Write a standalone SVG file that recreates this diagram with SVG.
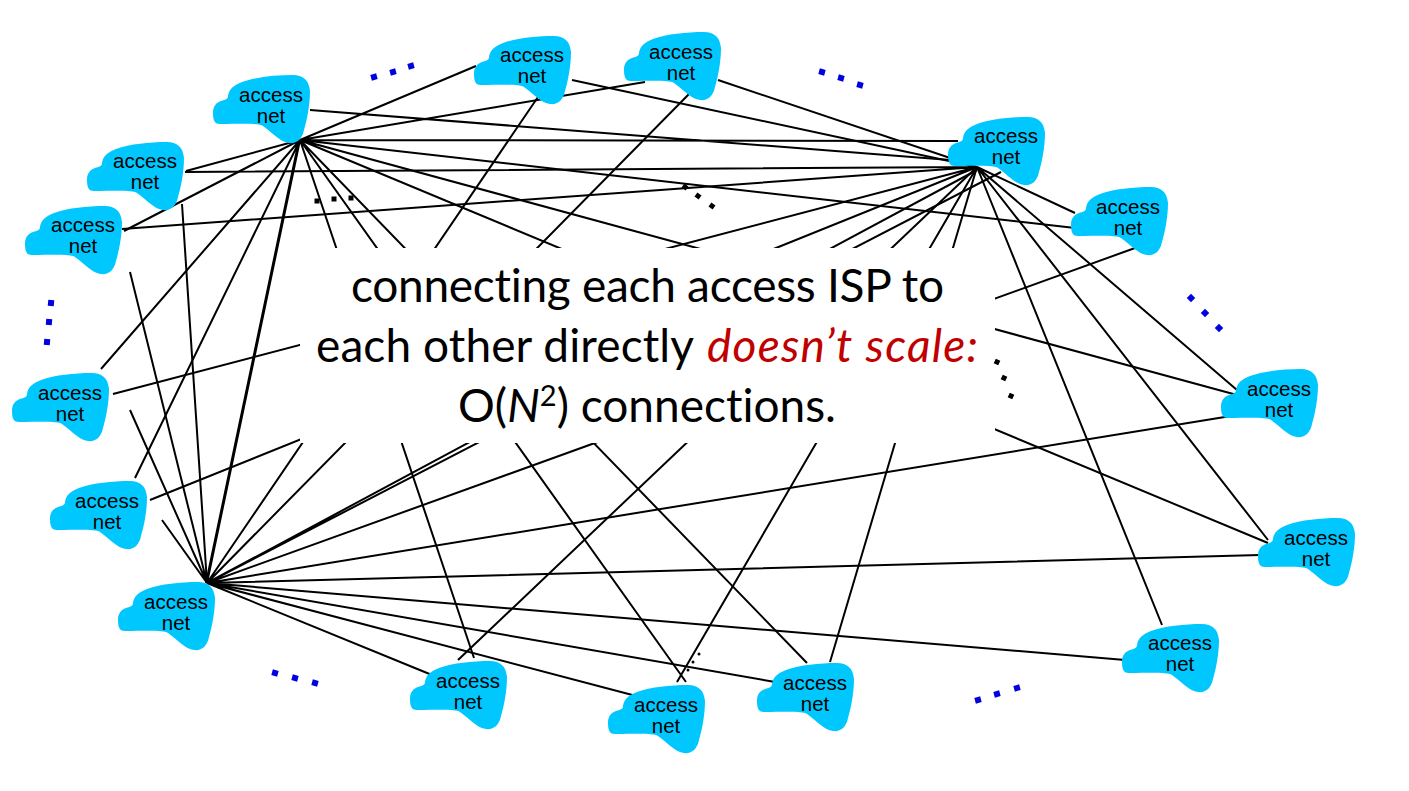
<svg xmlns="http://www.w3.org/2000/svg" width="1409" height="791" viewBox="0 0 1409 791">
<style>
.c{stroke:#000;stroke-width:2;fill:none}
.n text{font-family:"Liberation Sans",Arial,sans-serif;font-size:20.5px;fill:#000;text-anchor:middle}
.b{fill:#0000e0}
.k{fill:#000}
.big{font-family:Lato,"Open Sans",sans-serif;font-size:46px;fill:#000;font-variant-ligatures:none}
.mid{text-anchor:middle}
.red{fill:#c00000;font-style:italic}
</style>
<defs>
<path id="cloud" fill="#00c8ff" d="M0,38C0,31 3,28 8,26C12,25 15,24 15,21C16,14 21,10 29,7C43,2 62,0 80,0C90,0 96,5 97,16C97,30 94,45 91,55C89,65 83,69 76,68C67,67 60,58 50,51C45,48 30,49 7,49C2,49 0,46 0,38Z"/>
<rect id="bd" x="-3" y="-3" width="6" height="6" class="b"/>
<rect id="kd" x="-2.5" y="-2.5" width="5" height="5" class="k"/>
</defs>
<g id="connectors" class="c">
<path d="M300,140L476,66M300,140L645,82M300,140L958,141M310,110L950,160M300,140L1075,228M300,140L186,171M300,140L124,231M300,140L101,369M300,140L135,478M300,140L207,583M299,140L206,583M300,140L1237,395M300,140L1268,543M300,140L807,663M300,140L686,682M300,140L474,658"/>
<path d="M207,583L162,520M207,583L130,410M207,583L130,272M207,583L182,204M207,583L538,97M207,583L690,93M207,583L977,170M207,583L1001,172M207,583L1135,248M207,583L1237,415M207,583L1260,555M207,583L1125,660M207,583L775,682M207,583L640,697M207,583L432,675"/>
<path d="M977,167L150,500M977,167L113,394M977,167L122,229M977,167L185,172M977,167L572,80M977,167L718,80M977,167L1075,213M977,167L1237,390M977,167L1268,540M977,167L1162,625M977,167L830,662M977,167L677,682M977,167L458,660"/>
</g>
<rect id="panel" x="300" y="248" width="695" height="195" fill="#fff"/>
<g id="dots">
<use href="#bd" transform="translate(374,77) rotate(-15)"/><use href="#bd" transform="translate(393,72) rotate(-15)"/><use href="#bd" transform="translate(411,66) rotate(-15)"/>
<use href="#bd" transform="translate(822,72) rotate(15)"/><use href="#bd" transform="translate(841,78) rotate(15)"/><use href="#bd" transform="translate(860,85) rotate(15)"/>
<use href="#bd" transform="translate(1191,298) rotate(45)"/><use href="#bd" transform="translate(1205,313) rotate(45)"/><use href="#bd" transform="translate(1219,328) rotate(45)"/>
<use href="#bd" transform="translate(51,303) rotate(5)"/><use href="#bd" transform="translate(49,322) rotate(5)"/><use href="#bd" transform="translate(47,342) rotate(5)"/>
<use href="#bd" transform="translate(275,673) rotate(15)"/><use href="#bd" transform="translate(295,678) rotate(15)"/><use href="#bd" transform="translate(315,683) rotate(15)"/>
<use href="#bd" transform="translate(978,700) rotate(-15)"/><use href="#bd" transform="translate(997,694) rotate(-15)"/><use href="#bd" transform="translate(1017,688) rotate(-15)"/>
<use href="#kd" transform="translate(317,201)"/><use href="#kd" transform="translate(334,199)"/><use href="#kd" transform="translate(351,198)"/>
<use href="#kd" transform="translate(685,187) rotate(35)"/><use href="#kd" transform="translate(698,196) rotate(35)"/><use href="#kd" transform="translate(712,206) rotate(35)"/>
<use href="#kd" transform="translate(997,362) rotate(25)"/><use href="#kd" transform="translate(1004,378) rotate(25)"/><use href="#kd" transform="translate(1011,396) rotate(25)"/>
<circle cx="699" cy="654" r="1.5"/><circle cx="693" cy="662" r="1.5"/><circle cx="688" cy="670" r="1.5"/>
</g>
<g id="n1" class="n" transform="translate(213,75)"><use href="#cloud"/><text x="58" y="27">access</text><text x="58" y="48">net</text></g>
<g id="n2" class="n" transform="translate(87,142)"><use href="#cloud"/><text x="58" y="26">access</text><text x="58" y="47">net</text></g>
<g id="n3" class="n" transform="translate(474,36)"><use href="#cloud"/><text x="58" y="26">access</text><text x="58" y="47">net</text></g>
<g id="n4" class="n" transform="translate(624,32)"><use href="#cloud"/><text x="57" y="27">access</text><text x="57" y="48">net</text></g>
<g id="n5" class="n" transform="translate(948,117)"><use href="#cloud"/><text x="58" y="26">access</text><text x="58" y="47">net</text></g>
<g id="n6" class="n" transform="translate(1071,187)"><use href="#cloud"/><text x="57" y="27">access</text><text x="57" y="48">net</text></g>
<g id="n7" class="n" transform="translate(25,206)"><use href="#cloud"/><text x="58" y="26">access</text><text x="58" y="47">net</text></g>
<g id="n8" class="n" transform="translate(12,373)"><use href="#cloud"/><text x="58" y="27">access</text><text x="58" y="48">net</text></g>
<g id="n9" class="n" transform="translate(50,481)"><use href="#cloud"/><text x="57" y="27">access</text><text x="57" y="48">net</text></g>
<g id="n10" class="n" transform="translate(118,582)"><use href="#cloud"/><text x="58" y="27">access</text><text x="58" y="48">net</text></g>
<g id="n11" class="n" transform="translate(410,661)"><use href="#cloud"/><text x="58" y="27">access</text><text x="58" y="48">net</text></g>
<g id="n12" class="n" transform="translate(608,685)"><use href="#cloud"/><text x="58" y="27">access</text><text x="58" y="48">net</text></g>
<g id="n13" class="n" transform="translate(757,663)"><use href="#cloud"/><text x="58" y="27">access</text><text x="58" y="48">net</text></g>
<g id="n14" class="n" transform="translate(1122,624)"><use href="#cloud"/><text x="58" y="26">access</text><text x="58" y="47">net</text></g>
<g id="n15" class="n" transform="translate(1258,518)"><use href="#cloud"/><text x="58" y="27">access</text><text x="58" y="48">net</text></g>
<g id="n16" class="n" transform="translate(1221,369)"><use href="#cloud"/><text x="58" y="27">access</text><text x="58" y="48">net</text></g>
<g id="caption">
<text class="big" x="351" y="302" textLength="593">connecting each access ISP to</text>
<text class="big" x="316" y="362" textLength="378">each other directly</text>
<text class="big red" x="707" y="362" textLength="271">doesn’t scale:</text>
<text class="big mid" x="647" y="422">O(<tspan font-style="italic">N</tspan><tspan font-size="29" dy="-16">2</tspan><tspan dy="16">) connections.</tspan></text>
</g>
</svg>
